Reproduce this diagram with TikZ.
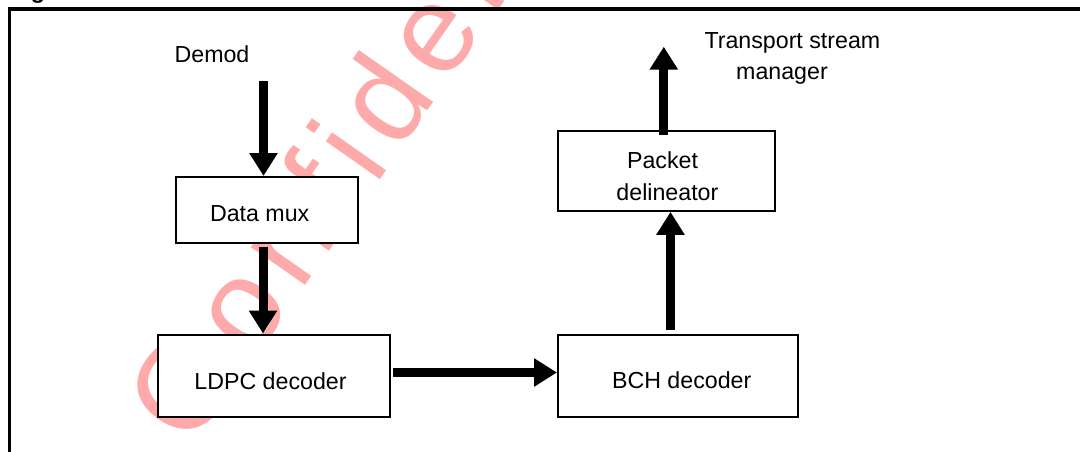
\documentclass[tikz,border=0pt]{standalone}
\usepackage{fontspec}
\setmainfont{Liberation Sans}
\usetikzlibrary{arrows.meta}
\definecolor{wmark}{RGB}{255,170,170}
\begin{document}
\begin{tikzpicture}[x=1pt,y=-1pt,
  box/.style={draw, line width=2pt, fill=white, inner sep=0pt},
  lbl/.style={font=\fontsize{23.2}{28}\selectfont, inner sep=0pt, anchor=base},
  flow/.style={line width=9pt, -{Triangle[width=27pt,length=23pt]}},
  frameline/.style={line width=3.5pt, line join=miter},
]
\useasboundingbox (0,0) rectangle (1080,452);

% watermark, behind everything
\node[font=\fontsize{125}{125}\selectfont\addfontfeature{LetterSpace=10.4},
      text=wmark, rotate=55, anchor=base west, inner sep=0pt] (wm)
      at (190.5,450) {C\kern19pt onfidential};

% figure title (only its lower edge lies on the page)
\node[font=\bfseries\fontsize{23.2}{28}\selectfont, anchor=base west, inner sep=0pt] (title)
      at (10,-1) {Figure};

% outer frame
\draw[frameline] (9.5,470) -- (9.5,9) -- (1095,9);

% blocks
\node[box, minimum width=182pt, minimum height=66pt] (dmux) at (267.25,210) {};
\node[box, minimum width=232pt, minimum height=82.5pt] (ldpc) at (274,375.75) {};
\node[box, minimum width=240pt, minimum height=82pt] (bch) at (678,376) {};
\node[box, minimum width=217pt, minimum height=80pt] (pkt) at (666.35,170.85) {};

% block texts
\node[lbl] (tdemod) at (212,63) {Demod};
\node[lbl] (tdmux) at (259.7,221.7) {Data mux};
\node[lbl] (tldpc) at (270.5,389.3) {LDPC decoder};
\node[lbl] (tbch) at (681.7,388.3) {BCH decoder};
\node[lbl] (tpkt1) at (662.5,168.3) {Packet};
\node[lbl] (tpkt2) at (667.4,200) {delineator};
\node[lbl] (tts1) at (792.4,49) {Transport stream};
\node[lbl] (tts2) at (782,80) {manager};

% connector ends
\coordinate (in1) at (263.5,81);
\coordinate (in2) at (263,246.7);
\coordinate (in3) at (393.3,372.5);
\coordinate (in4) at (670.5,330.3);
\coordinate (in5) at (663.8,135);
\coordinate (out5) at (663.8,46.7);

% data flow
\draw[flow] (in1) -- (in1 |- dmux.north);
\draw[flow] (in2) -- (in2 |- ldpc.north);
\draw[flow] (in3) -- (in3 -| bch.west);
\draw[flow] (in4) -- (in4 |- pkt.south);
\draw[flow] (in5) -- (out5);
\end{tikzpicture}
\end{document}
